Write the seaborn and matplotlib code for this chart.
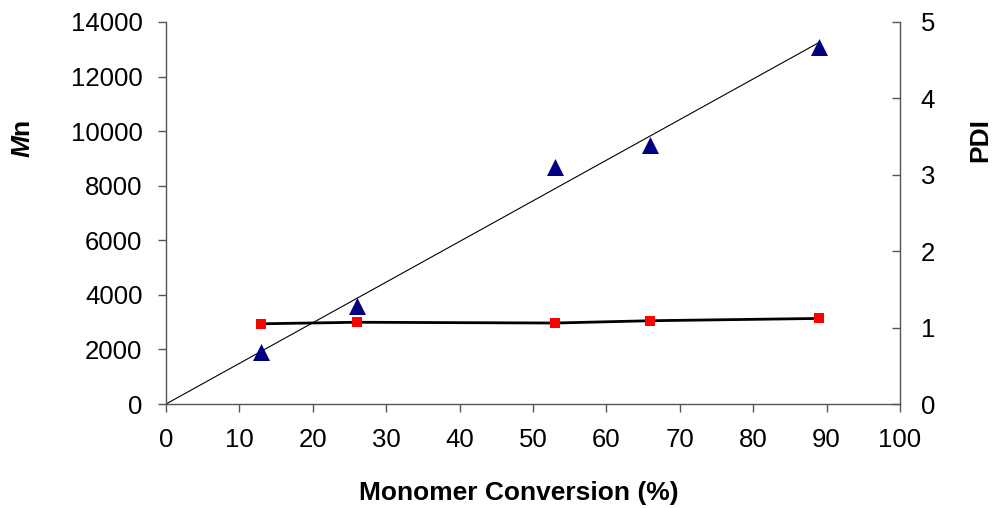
import numpy as np
import pandas as pd
import matplotlib
matplotlib.use("Agg")
import matplotlib.pyplot as plt
import seaborn as sns

# Data
conversion = [13, 26, 53, 66, 89]
mn = [1900, 3600, 8700, 9500, 13100]
pdi = [1.05, 1.07, 1.06, 1.09, 1.12]
x_ticks = [0, 10, 20, 30, 40, 50, 60, 70, 80, 90, 100]
mn_ticks = [0, 2000, 4000, 6000, 8000, 10000, 12000, 14000]
pdi_ticks = [0, 1, 2, 3, 4, 5]

sns.set_theme(style="white")
plt.rcParams['font.family'] = ['Liberation Sans', 'DejaVu Sans']
plt.rcParams['mathtext.fontset'] = 'custom'
plt.rcParams['mathtext.bfit'] = 'Liberation Sans:bold:italic'
plt.rcParams['mathtext.rm'] = 'Liberation Sans'
plt.rcParams['text.color'] = 'black'
plt.rcParams['axes.labelcolor'] = 'black'

df = pd.DataFrame({"conv": conversion, "mn": mn, "pdi": pdi})

# trendline through origin (least squares)
cx = np.array(conversion, float)
my = np.array(mn, float)
slope = (cx * my).sum() / (cx * cx).sum()
trend = pd.DataFrame({"conv": [0, cx.max()], "mn": [0, slope * cx.max()]})

fig = plt.figure(figsize=(9.94, 5.08), dpi=100)
ax = fig.add_axes([0.167, 0.2047, 0.7384, 0.752])

sns.lineplot(data=trend, x="conv", y="mn", ax=ax, color="black", linewidth=0.8)
sns.scatterplot(data=df, x="conv", y="mn", ax=ax, marker="^", s=150,
                color="#000080", edgecolor="#000080", linewidth=0, zorder=3)

ax2 = ax.twinx()
sns.lineplot(data=df, x="conv", y="pdi", ax=ax2, color="black", linewidth=2)
sns.scatterplot(data=df, x="conv", y="pdi", ax=ax2, marker="s", s=55,
                color="#ff0000", edgecolor="#ff0000", linewidth=0, zorder=3)

ax.set_xlim(0, 100)
ax.set_ylim(0, 14000)
ax2.set_ylim(0, 5)
ax.set_xticks(x_ticks)
ax.set_yticks(mn_ticks)
ax2.set_yticks(pdi_ticks)

for a in (ax, ax2):
    for s in a.spines.values():
        s.set_color("#555555")
        s.set_linewidth(1.0)
    a.spines["top"].set_visible(False)
ax.spines["right"].set_visible(False)
ax2.spines["left"].set_visible(False)
ax2.spines["bottom"].set_visible(False)

ax.tick_params(axis="both", which="major", direction="out", length=6, width=1,
               color="#555555", labelsize=18.5, labelcolor="black", pad=11,
               left=True, bottom=True)
ax2.tick_params(axis="y", direction="in", length=6, width=1, color="#555555",
                labelsize=18.5, labelcolor="black", pad=15, right=True)

ax.set_xlabel("Monomer Conversion (%)", fontsize=19, fontweight="bold")
ax.set_ylabel(r"$\mathbfit{M}$n", fontsize=19, fontweight="bold")
ax2.set_ylabel("PDI", fontsize=19, fontweight="bold")
for lab in (ax.xaxis.label, ax.yaxis.label, ax2.yaxis.label):
    lab.set_va("center")
    lab.set_ha("center")
ax.xaxis.set_label_coords(0.481, -0.233)
ax.yaxis.set_label_coords(-0.195, 0.695)
ax2.yaxis.set_label_coords(1.109, 0.69)
ax.grid(False)
ax2.grid(False)

fig.savefig("out.png", dpi=100)
